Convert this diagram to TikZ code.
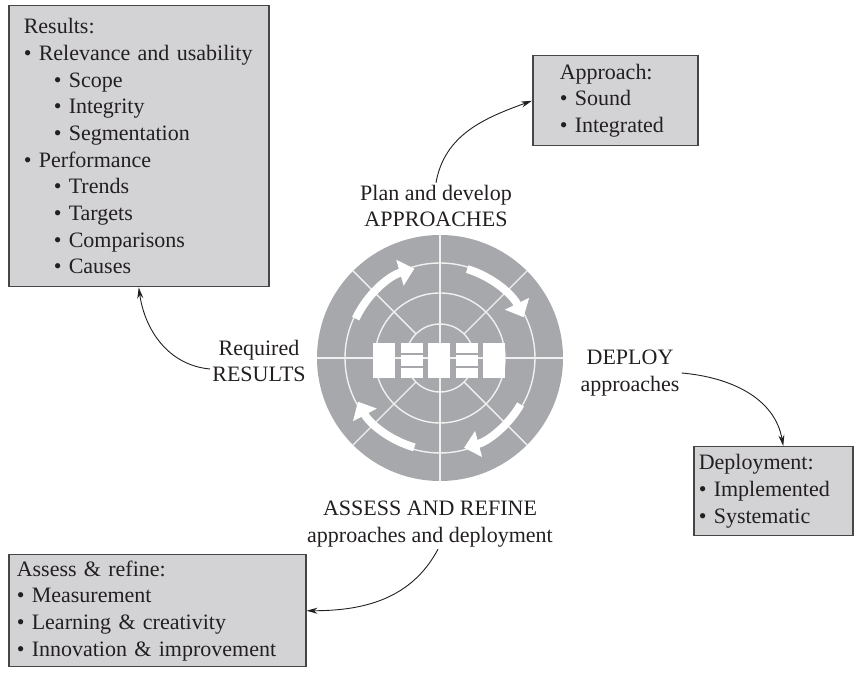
\documentclass[tikz,border=0pt]{standalone}
\usepackage{fontspec}
\setmainfont{Liberation Serif}
\usetikzlibrary{arrows.meta,calc}
\definecolor{boxgray}{RGB}{211,211,213}
\definecolor{wheelgray}{RGB}{166,168,171}
\definecolor{framegray}{RGB}{70,70,70}
\definecolor{inkblack}{RGB}{35,31,32}
\definecolor{ringwhite}{RGB}{240,240,240}

\begin{document}
\begin{tikzpicture}[x=1pt,y=1pt,
  font=\fontsize{22}{26.7}\selectfont,
  infobox/.style={draw=framegray, line width=1.5pt, fill=boxgray, anchor=north west,
    align=left, inner ysep=0pt, text=inkblack},
  cyclelabel/.style={align=center, inner sep=2pt, text=inkblack},
  link/.style={-{Stealth[length=11pt,width=6pt]}, line width=0.9pt, draw=inkblack},
  ringline/.style={draw=ringwhite, line width=1.4pt},
  cyclearrow/.style={draw=white, line width=8pt, -{Triangle[width=26pt,length=15pt]}},
  ]
  \useasboundingbox (0,0) rectangle (855,674);
  %
  \coordinate (c) at (440,316);
  %
  % the wheel
  \fill[wheelgray] (c) circle (123);
  \draw[ringline] (c) circle (34) (c) circle (65) (c) circle (95);
  \draw[ringline] ($(c)+(-123,0)$) -- ($(c)+(123,0)$);
  \draw[ringline] ($(c)+(0,-123)$) -- ($(c)+(0,123)$);
  \foreach \a in {45,135,225,315}
    \draw[ringline] ($(c)+(\a:34)$) -- ($(c)+(\a:123)$);
  %
  % the cycle arrows
  \foreach \s/\e in {155/106, 73/26, -30/-75, -106/-152}
    \draw[cyclearrow] ($(c)+(\s:93)$) arc[start angle=\s, end angle=\e, radius=93];
  %
  % the blocks in the middle
  \foreach \k in {-2,...,2}
    \fill[white] ($(c)+(\k*27.5-12,-20)$) rectangle ($(c)+(\k*27.5+10,15)$);
  \foreach \k in {-1,1} {
    \draw[wheelgray, line width=1.8pt] ($(c)+(\k*27.5-12,4)$) -- ($(c)+(\k*27.5+10,4)$);
    \draw[wheelgray, line width=1.8pt] ($(c)+(\k*27.5-12,-9)$) -- ($(c)+(\k*27.5+10,-9)$);
  }
  %
  % labels round the wheel
  \node[cyclelabel] (plan) at (436,468) {Plan and develop\\APPROACHES};
  \node[cyclelabel] (req) at (259,313) {Required\\RESULTS};
  \node[cyclelabel] (deploy) at (630,301) {DEPLOY\\approaches};
  \node[cyclelabel] (assess) at (430,150) {ASSESS AND REFINE\\approaches and deployment};
  %
  % boxes
  \node[infobox, inner xsep=15pt, text width=230pt, minimum height=281pt] (results) at (8,669)
    {Results:\\
     \textbullet\ Relevance and usability\\
     \hspace*{30pt}\textbullet\ Scope\\
     \hspace*{30pt}\textbullet\ Integrity\\
     \hspace*{30pt}\textbullet\ Segmentation\\
     \textbullet\ Performance\\
     \hspace*{30pt}\textbullet\ Trends\\
     \hspace*{30pt}\textbullet\ Targets\\
     \hspace*{30pt}\textbullet\ Comparisons\\
     \hspace*{30pt}\textbullet\ Causes};
  \node[infobox, inner xsep=27pt, text width=111pt, minimum height=90pt] (approach) at (532,619)
    {Approach:\\ \textbullet\ Sound\\ \textbullet\ Integrated};
  \node[infobox, inner xsep=5pt, text width=149pt, minimum height=89pt] (deployment) at (693,228)
    {Deployment:\\ \textbullet\ Implemented\\ \textbullet\ Systematic};
  \node[infobox, inner xsep=8pt, text width=281pt, minimum height=112pt] (assessbox) at (8,120)
    {Assess \& refine:\\ \textbullet\ Measurement\\ \textbullet\ Learning \& creativity\\
     \textbullet\ Innovation \& improvement};
  %
  % connectors
  \draw[link] (plan.north) to[out=80,in=200] (approach.west);
  \draw[link] ([yshift=-8pt]req.west) to[out=175,in=-82] (results.south);
  \draw[link] (deploy.east) to[out=-5,in=100] ([xshift=10pt]deployment.north);
  \draw[link] ([xshift=8pt]assess.south) to[out=-118,in=0] (assessbox.east);
  %
\end{tikzpicture}
\end{document}
